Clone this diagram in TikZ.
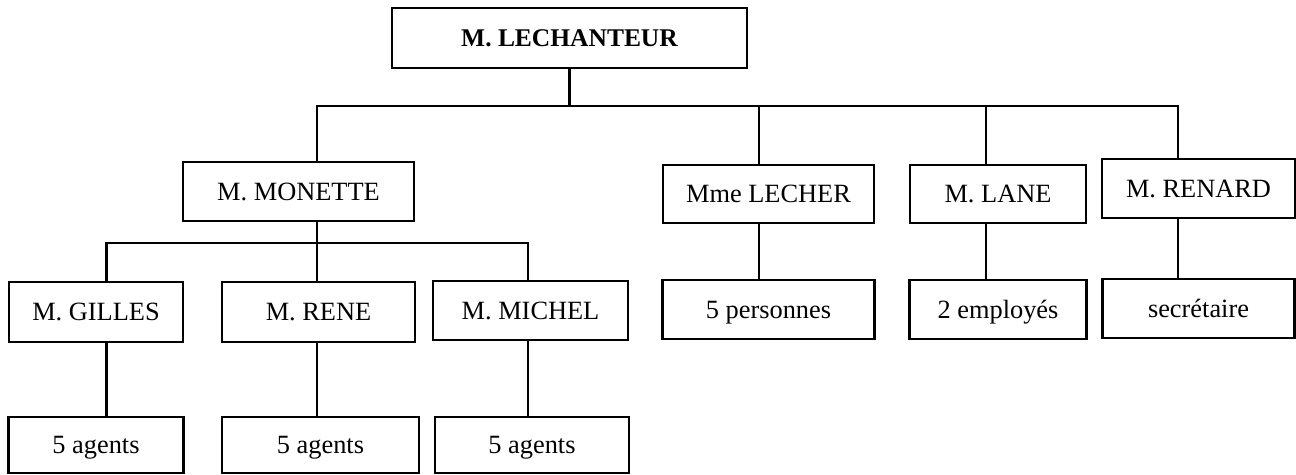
\documentclass[tikz,border=0pt]{standalone}
\usepackage{fontspec}
\setmainfont{Liberation Serif}
\usetikzlibrary{positioning}
\begin{document}
\begin{tikzpicture}[x=1cm,y=1cm]
	\tikzstyle{rect1} = [rectangle,line width=1.6pt,inner sep=0pt,text centered,
	text height=10pt,text depth=0pt,draw = black,font=\fontsize{15}{18}\selectfont]
	\tikzstyle{lien} = [line width=1.4pt]
	\useasboundingbox (0,0) rectangle (25.92,9.5);

	\node (chef) [rect1,minimum width=7.1cm,minimum height=1.2cm,font=\fontsize{14.5}{18}\selectfont\bfseries] at (11.39,8.74) {M. LECHANTEUR};
	\node (monette) [rect1,minimum width=4.62cm,minimum height=1.18cm] at (5.97,5.67) {M. MONETTE};
	\node (lecher) [rect1,minimum width=4.22cm,minimum height=1.16cm] at (15.37,5.62) {Mme LECHER};
	\node (lane) [rect1,minimum width=3.52cm,minimum height=1.16cm] at (19.96,5.62) {M. LANE};
	\node (renard) [rect1,minimum width=3.86cm,minimum height=1.18cm] at (23.97,5.73) {M. RENARD};
	\node (gilles) [rect1,minimum width=3.48cm,minimum height=1.2cm] at (1.92,3.26) {M. GILLES};
	\node (rene) [rect1,minimum width=3.86cm,minimum height=1.2cm] at (6.37,3.26) {M. RENE};
	\node (michel) [rect1,minimum width=3.9cm,minimum height=1.18cm] at (10.61,3.29) {M. MICHEL};
	\node (pers) [rect1,minimum width=4.24cm,minimum height=1.18cm,below of=lecher,node distance=2.31cm] {5 personnes};
	\node (employes) [rect1,minimum width=3.54cm,minimum height=1.18cm,below of=lane,node distance=2.31cm] {2 employés};
	\node (secr) [rect1,minimum width=3.84cm,minimum height=1.18cm,below of=renard,node distance=2.4cm] {secrétaire};
	\node (agents1) [rect1,minimum width=3.5cm,minimum height=1.12cm,below of=gilles,node distance=2.66cm] {5 agents};
	\node (agents2) [rect1,minimum width=3.94cm,minimum height=1.12cm,below of=rene,node distance=2.66cm,xshift=0.04cm] {5 agents};
	\node (agents3) [rect1,minimum width=3.88cm,minimum height=1.12cm,below of=michel,node distance=2.69cm,xshift=0.03cm] {5 agents};

	% points on the two horizontal lines
	\coordinate (b1) at (6.34,7.38);
	\coordinate (b2) at (15.18,7.38);
	\coordinate (b3) at (19.72,7.38);
	\coordinate (b4) at (23.56,7.38);
	\coordinate (s1) at (2.13,4.64);
	\coordinate (s2) at (6.34,4.64);
	\coordinate (s3) at (10.56,4.64);

	\draw[lien] (chef.south) -- (chef.south |- b1);
	\draw[lien] (b1 |- monette.north) -- (b1) -- (b4) -- (b4 |- renard.north);
	\foreach \b/\n in {b2/lecher,b3/lane}
		\draw[lien] (\b) -- (\b |- \n.north);
	\draw[lien] (s2 |- monette.south) -- (s2);
	\draw[lien] (s1 |- gilles.north) -- (s1) -- (s3) -- (s3 |- michel.north);
	\draw[lien] (s2) -- (s2 |- rene.north);
	\foreach \s/\a/\z in {s1/gilles/agents1,s2/rene/agents2,s3/michel/agents3,b2/lecher/pers,b3/lane/employes,b4/renard/secr}
		\draw[lien] (\s |- \a.south) -- (\s |- \z.north);
\end{tikzpicture}
\end{document}
